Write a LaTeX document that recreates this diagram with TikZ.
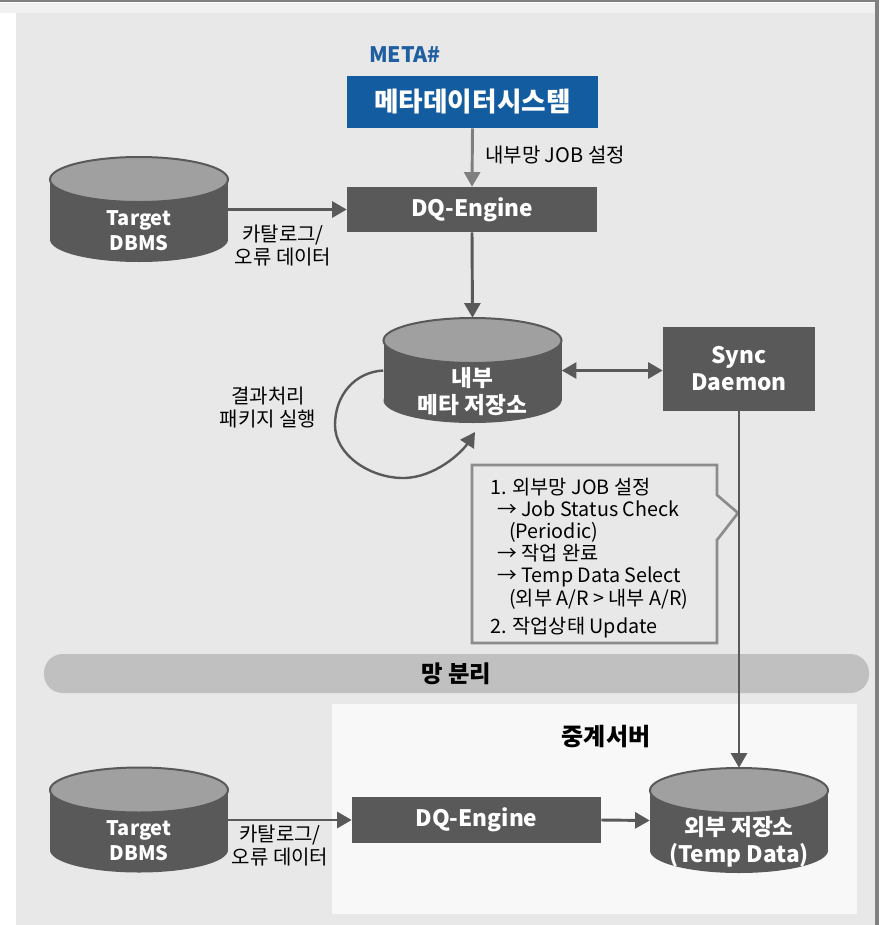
\documentclass[tikz,border=0pt]{standalone}
\usepackage{fontspec}
\setmainfont{Noto Sans CJK KR}
\usetikzlibrary{arrows.meta}
\definecolor{bgc}{HTML}{E8E8E8}
\definecolor{bandc}{HTML}{F1F1F1}
\definecolor{borderc}{HTML}{808080}
\definecolor{relayc}{HTML}{F8F8F8}
\definecolor{dk}{HTML}{595959}
\definecolor{lt}{HTML}{A0A0A0}
\definecolor{sepc}{HTML}{C0C0C0}
\definecolor{bluec}{HTML}{135CA0}
\definecolor{bluet}{HTML}{1F5EA0}
\definecolor{calloutc}{HTML}{8C8C8C}
\definecolor{graya}{HTML}{7F7F7F}
\tikzset{
  darkbox/.style={fill=dk, text=white, inner sep=0, align=center},
  conn/.style={draw=dk, line width=2.2pt, -{Triangle[length=11pt,width=12pt]}},
  lbl/.style={font=\fontsize{15}{17.25}\selectfont, text=black, align=center, inner sep=0},
  cline/.style={font=\fontsize{14.8}{16}\selectfont, text=black, anchor=west, inner sep=0},
  cyltext/.style={text=white, align=center, inner sep=0},
}
\newcommand{\dbcyl}[5]{%
  \fill[dk] ({#2-89},{#3-30}) rectangle ({#2+89},{#3+30});
  \fill[dk] (#2,{#3+30}) ellipse (66.75pt and 16.875pt);
  \filldraw[fill=lt, draw=dk, line width=1.5pt] (#2,{#3-30}) ellipse (66.75pt and 16.875pt);
  \node[inner sep=0, minimum width=133.5pt, minimum height=78.75pt] (#1) at (#2,#3) {};
  \node[cyltext, font=#5] (#1t) at (#2,{#3+21}) {#4};
}
\begin{document}
\begin{tikzpicture}[x=0.75pt,y=-0.75pt]
\useasboundingbox (0,0) rectangle (884,925);
% background frame
\fill[white] (0,0) rectangle (884,925);
\fill[bandc] (0,3) rectangle (876,13);
\fill[bgc] (16,13) rectangle (875,925);
\draw[borderc, line width=1.5pt] (0,1) -- (878,1);
\draw[borderc, line width=3pt] (877,0) -- (877,925);
% relay server region
\fill[relayc] (332,704) rectangle (857,914);
\node[font=\bfseries\fontsize{18}{21}\selectfont, inner sep=0] (relaytitle) at (606,737) {중계서버};
% separation bar
\node[fill=sepc, rounded corners=14pt, minimum width=618.75pt, minimum height=29.25pt, inner sep=0,
      font=\bfseries\fontsize{17.5}{20}\selectfont] (sep) at (456.5,673.5) {망 분리};
% META#
\node[font=\bfseries\fontsize{16}{19}\selectfont, text=bluet, inner sep=0] (metatitle) at (405,55) {META\#};
\node[fill=bluec, text=white, inner sep=0, minimum width=188.25pt, minimum height=39pt,
      font=\bfseries\fontsize{20}{24}\selectfont] (metasys) at (472.5,102) {메타데이터시스템};
% DQ engines
\node[darkbox, minimum width=187.5pt, minimum height=33.75pt, font=\bfseries\fontsize{17}{20}\selectfont] (dq1) at (472,209.5) {DQ-Engine};
\node[darkbox, minimum width=186.75pt, minimum height=34.5pt, font=\bfseries\fontsize{17}{20}\selectfont] (dq2) at (476.5,820) {DQ-Engine};
% sync daemon
\node[darkbox, minimum width=114pt, minimum height=63pt, font=\bfseries\fontsize{17}{20.25}\selectfont] (sync) at (739,369) {Sync\\Daemon};
% cylinders
\dbcyl{tdb1}{139}{209.5}{Target\\DBMS}{\bfseries\fontsize{15}{18.75}\selectfont}
\dbcyl{mi}{472.5}{370.5}{내부\\메타 저장소}{\bfseries\fontsize{17}{20.25}\selectfont}
\dbcyl{tdb2}{139}{820}{Target\\DBMS}{\bfseries\fontsize{15}{18.75}\selectfont}
\dbcyl{ext}{739}{820.5}{외부 저장소\\(Temp Data)}{\bfseries\fontsize{17}{20.25}\selectfont}
% callout
\filldraw[fill=bgc, draw=calloutc, line width=2pt] (472,465) -- (717,465) -- (717,495) -- (738,513) -- (717,540) -- (717,643) -- (472,643) -- cycle;
\node[cline] (c1) at (490,487) {1. 외부망 JOB 설정};
\node[cline] (c2) at (497,509) {→ Job Status Check};
\node[cline] (c3) at (509,532) {(Periodic)};
\node[cline] (c4) at (497,553) {→ 작업 완료};
\node[cline] (c5) at (497,577) {→ Temp Data Select};
\node[cline] (c6) at (509,599) {(외부 A/R > 내부 A/R)};
\node[cline] (c7) at (490,628) {2. 작업상태 Update};
% labels
\node[lbl, anchor=west] (l1) at (485,155) {내부망 JOB 설정};
\node[lbl] (l2) at (283,246) {카탈로그/\\오류 데이터};
\node[lbl] (l3) at (280,846) {카탈로그/\\오류 데이터};
\node[lbl] (l4) at (268,408) {결과처리\\패키지 실행};
% connectors
\draw[conn, draw=graya] (metasys.south) -- (dq1.north);
\draw[conn] (tdb1.east) -- (dq1.west);
\draw[conn] (dq1.south) -- (mi.north);
\draw[conn, {Triangle[length=11pt,width=12pt]}-{Triangle[length=11pt,width=12pt]}] (mi.east) -- (mi.east -| sync.west);
\coordinate (loopend) at (475,432);
\draw[conn, line width=1.8pt] (mi.west) .. controls (355,372) and (335,395) .. (335,425) .. controls (335,455) and (370,478) .. (403,478) .. controls (435,478) and (462,452) .. (loopend);
\draw[conn] (sync.south) -- (ext.north);
\draw[conn] (tdb2.east) -- (dq2.west);
\draw[conn] (dq2.east) -- (ext.west);
\end{tikzpicture}
\end{document}
